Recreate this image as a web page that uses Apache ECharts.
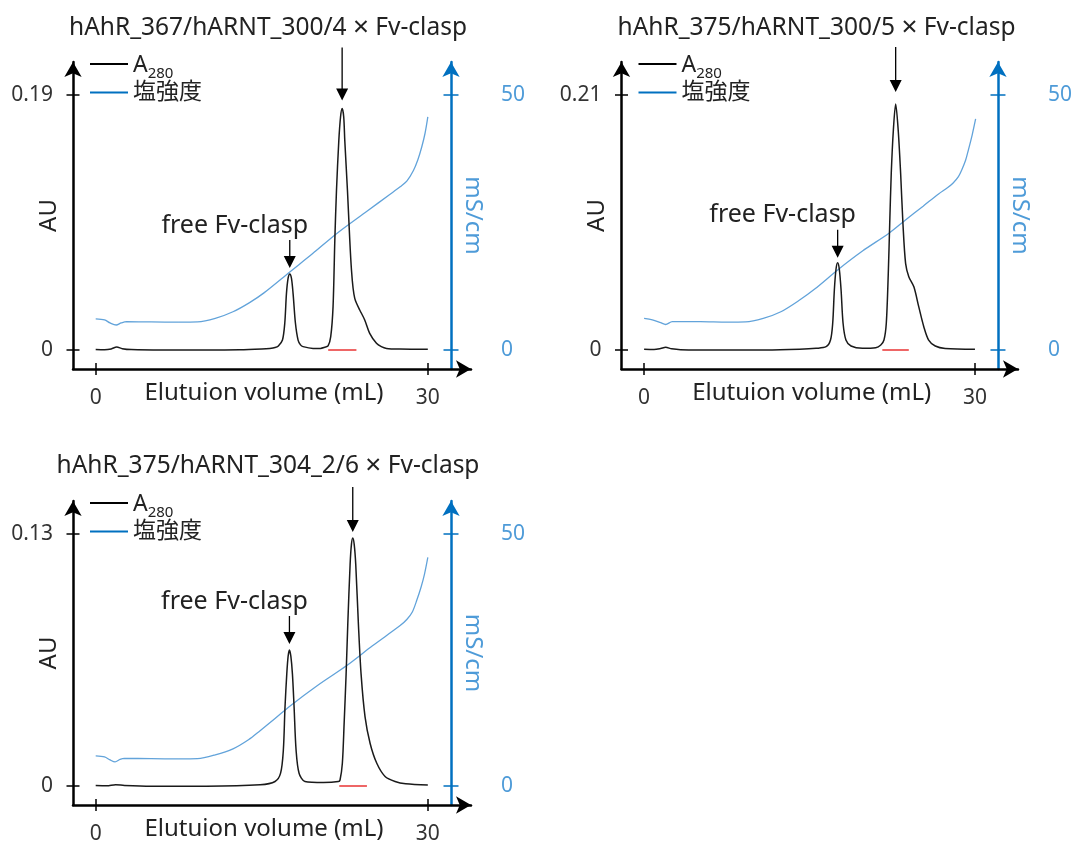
<!DOCTYPE html>
<html>
<head>
<meta charset="utf-8">
<script src="https://cdn.jsdelivr.net/npm/echarts@6/dist/echarts.min.js"></script>
<style>
  html, body { margin: 0; padding: 0; background: #ffffff; }
  #chart { width: 1075px; height: 845px; }
</style>
</head>
<body>
<div id="chart"></div>
<script>
// ---- chart text: construct name / ratio ----
const constructs = ['hAhR_367/hARNT_300/4', 'hAhR_375/hARNT_300/5', 'hAhR_375/hARNT_304_2/6'];
const binder = 'Fv-clasp';
const freeLabel = 'free Fv-clasp';

// ---- tick values ----
const auTopTicks = [0.19, 0.21, 0.13];   // top A280 tick of each panel
const condTicks = [0, 50];               // mS/cm
const volTicks = [0, 30];                // mL

// ---- collected fraction (mL, start/end) ----
const fractions = [[21.0, 23.55], [21.6, 24.0], [22.0, 24.5]];

// ---- A280 traces (elution volume in mL, absorbance in AU) ----
const vol1 = [0, 0.8, 1.4, 1.9, 2.4, 3.2, 6, 10, 13, 15, 15.72, 16.2, 16.5, 16.87, 17.08, 17.23, 17.38, 17.53, 17.68, 17.83, 18.04, 18.28, 18.5, 18.73, 19.63, 20.3, 20.69, 20.99, 21.23, 21.44, 21.6, 21.75, 21.96, 22.12, 22.26, 22.4, 22.5, 22.74, 22.95, 23.1, 23.25, 23.4, 23.56, 23.85, 24.3, 24.75, 25.36, 25.8, 26.27, 27.47, 30];
const a280_1 = [0.0004, 0.0002, 0.0008, 0.0022, 0.001, 0.0003, 0, 0, 0.0002, 0.0008, 0.0012, 0.0018, 0.003, 0.0074, 0.0201, 0.042, 0.0535, 0.0566, 0.0535, 0.042, 0.0201, 0.0074, 0.0038, 0.0025, 0.0012, 0.0012, 0.002, 0.003, 0.0099, 0.0323, 0.082, 0.119, 0.156, 0.174, 0.18, 0.174, 0.156, 0.119, 0.082, 0.06, 0.046, 0.0385, 0.0348, 0.0298, 0.0224, 0.0124, 0.005, 0.0025, 0.0012, 0.0007, 0.0005];

const vol2 = [0, 0.9, 1.5, 1.95, 2.5, 3.3, 7, 11, 14.1, 15.6, 16.5, 16.9, 17.1, 17.25, 17.4, 17.55, 17.7, 17.86, 18.04, 18.3, 18.76, 19.8, 21.0, 21.46, 21.75, 21.96, 22.14, 22.27, 22.41, 22.6, 22.81, 23.04, 23.26, 23.47, 23.71, 24.0, 24.46, 24.9, 25.36, 25.8, 26.4, 27.3, 30];
const a280_2 = [0.0006, 0.0004, 0.0012, 0.0022, 0.001, 0.0003, 0, 0, 0.0006, 0.0014, 0.0027, 0.0082, 0.022, 0.0494, 0.0665, 0.0719, 0.0665, 0.0494, 0.022, 0.0082, 0.0033, 0.0014, 0.0019, 0.0041, 0.0082, 0.022, 0.063, 0.104, 0.1455, 0.181, 0.2026, 0.181, 0.1455, 0.104, 0.0714, 0.0604, 0.052, 0.0357, 0.0192, 0.0082, 0.0033, 0.0012, 0.0006];

const vol3 = [0, 1.0, 1.8, 2.6, 5, 10, 14.85, 16.2, 16.7, 16.95, 17.1, 17.26, 17.38, 17.5, 17.63, 17.77, 17.92, 18.1, 18.37, 18.9, 20.57, 21.92, 22.07, 22.28, 22.44, 22.62, 22.77, 22.98, 23.1, 23.22, 23.35, 23.49, 23.73, 23.97, 24.33, 24.79, 25.39, 26.14, 27.04, 28, 30];
const a280_3 = [0.0003, 0.0002, 0.0008, 0.0004, 0, 0, 0.0007, 0.0024, 0.0067, 0.0186, 0.0408, 0.0578, 0.0668, 0.0701, 0.0668, 0.0578, 0.0408, 0.0186, 0.0067, 0.0024, 0.0019, 0.0024, 0.0032, 0.0118, 0.0322, 0.0578, 0.0834, 0.1141, 0.1245, 0.1278, 0.1245, 0.1141, 0.0834, 0.0578, 0.0357, 0.022, 0.0118, 0.005, 0.0024, 0.0012, 0.0006];

// ---- conductivity traces (elution volume in mL, mS/cm) ----
const condVol1 = [0, 0.8, 1.3, 1.85, 2.3, 2.8, 5, 7.5, 9.2, 10.8, 12.4, 13.9, 15.2, 17.53, 19.6, 21.75, 24.5, 26.5, 27.5, 28.1, 28.7, 29.1, 29.45, 29.75, 30];
const cond1 = [6.1, 5.9, 5.3, 4.9, 5.3, 5.55, 5.5, 5.45, 5.5, 6.2, 7.5, 9.3, 11.2, 15.3, 18.9, 22.8, 27.2, 30.4, 32.0, 33.1, 35.2, 37.3, 39.8, 42.5, 45.7];

const condVol2 = [0, 0.75, 1.5, 1.95, 2.55, 5.1, 7.5, 9.2, 10.8, 12.4, 14.1, 15.5, 17.55, 19.8, 22.2, 23.7, 25.3, 26.7, 27.5, 28.0, 28.5, 28.8, 29.15, 29.4, 29.75, 30.06];
const cond2 = [6.2, 5.9, 5.35, 5.0, 5.55, 5.55, 5.45, 5.5, 6.2, 7.5, 9.8, 12.0, 15.7, 19.4, 22.9, 25.5, 28.2, 30.6, 31.8, 32.7, 34.0, 35.3, 37.2, 39.2, 42.2, 45.3];

const condVol3 = [0, 0.8, 1.3, 1.75, 2.2, 2.6, 5, 7.5, 9.2, 10.8, 12.4, 13.8, 14.85, 16.2, 17.5, 20, 22.68, 25, 27.5, 28.1, 28.6, 29.0, 29.4, 29.7, 30];
const cond3 = [6.0, 5.8, 5.2, 4.8, 5.3, 5.5, 5.45, 5.4, 5.45, 6.2, 7.4, 9.2, 11.0, 13.4, 15.8, 19.9, 23.9, 27.8, 31.8, 33.0, 34.5, 36.8, 39.5, 42.0, 45.3];

const a280Vols = [vol1, vol2, vol3];
const a280Vals = [a280_1, a280_2, a280_3];
const condVols = [condVol1, condVol2, condVol3];
const condVals = [cond1, cond2, cond3];

// ---- layout and style ----
const FONT = '"Noto Sans", "Noto Sans CJK JP", sans-serif';
const BLACK = '#000000';
const INK = '#222222';
const AXIS_BLUE = '#0070C0';
const TEXT_BLUE = '#4E9BD8';
const TRACE_BLUE = '#62A3DA';
const FRACTION_RED = '#EE6666';
const panels = [
  { left: 73, top: 62, titleTop: 13, bigArrow: 53, bigGap: 8, freeArrow: 28, freeGap: 6 },
  { left: 621.5, top: 62, titleTop: 13, bigArrow: 45, bigGap: 12, freeArrow: 28, freeGap: 5 },
  { left: 73, top: 501, titleTop: 451, bigArrow: 45, bigGap: 6, freeArrow: 28, freeGap: 6 }
];
const GRID_W = 398, GRID_H = 307;
const X_MIN = -2.05, X_MAX = 33.9;
// zero sits 19px above the grid bottom; top tick sits 255px above zero
const ZERO_PX = 19, TICK_PX = 255;

function arrowPath(len) {
  const head = 12;
  return 'path://M5.35,0 L6.65,0 L6.65,' + (len - head) + ' L12,' + (len - head) +
         ' L6,' + len + ' L0,' + (len - head) + ' L5.35,' + (len - head) + ' Z';
}

function zip(xs, ys) { return xs.map((x, i) => [x, ys[i]]); }

function peakOf(xs, ys, lo, hi) {
  let best = -1;
  for (let i = 0; i < xs.length; i++) {
    if (xs[i] >= lo && xs[i] <= hi && (best < 0 || ys[i] > ys[best])) best = i;
  }
  return [xs[best], ys[best]];
}

const option = {
  backgroundColor: '#ffffff',
  animation: false,
  textStyle: { fontFamily: FONT },
  title: [], legend: [], grid: [], xAxis: [], yAxis: [], series: []
};

panels.forEach((p, i) => {
  const auTop = auTopTicks[i];
  const auMin = -auTop * ZERO_PX / TICK_PX;
  const auMax = auTop * (GRID_H - ZERO_PX) / TICK_PX;
  const cMax = condTicks[1];
  const cMin = -cMax * ZERO_PX / TICK_PX;
  const cMaxR = cMax * (GRID_H - ZERO_PX) / TICK_PX;

  option.title.push({
    text: '{t|' + constructs[i] + ' }{x|×}{t| ' + binder + '}',
    left: p.left + 195, top: p.titleTop, textAlign: 'center', padding: 0,
    textStyle: {
      fontFamily: FONT, fontSize: 24.5, fontWeight: 'normal', color: INK,
      rich: {
        t: { fontFamily: FONT, fontSize: 24.5, lineHeight: 30, color: INK },
        x: { fontFamily: FONT, fontSize: 28, lineHeight: 30, color: INK }
      }
    }
  });

  option.legend.push({
    orient: 'vertical', left: p.left + 17, top: p.top - 10, padding: 0,
    itemWidth: 38, itemHeight: 2, itemGap: 0, icon: 'rect', selectedMode: false,
    data: [
      { name: 'A280', itemStyle: { color: BLACK } },
      { name: '塩強度', itemStyle: { color: AXIS_BLUE } }
    ],
    formatter: n => n === 'A280' ? '{a|A}{s|280}' : '{c|' + n + '}',
    textStyle: {
      fontFamily: FONT, fontSize: 23, color: INK,
      rich: {
        a: { fontFamily: FONT, fontSize: 23, lineHeight: 24, padding: [2, 0, 0, 0], verticalAlign: 'top', color: INK },
        s: { fontFamily: FONT, fontSize: 15, lineHeight: 15, padding: [14, 0, 0, 0], verticalAlign: 'top', color: INK },
        c: { fontFamily: FONT, fontSize: 23, lineHeight: 24, color: INK }
      }
    }
  });

  option.grid.push({ left: p.left, top: p.top, width: GRID_W, height: GRID_H, containLabel: false });

  const xBase = {
    type: 'value', gridIndex: i, min: X_MIN, max: X_MAX, position: 'bottom',
    splitLine: { show: false }
  };
  // main x axis with arrow, outer ticks, labels and name
  option.xAxis.push(Object.assign({}, xBase, {
    axisLine: { show: true, onZero: false, lineStyle: { color: BLACK, width: 2.5 }, symbol: ['none', 'arrow'], symbolSize: [13, 15] },
    axisTick: { show: true, inside: false, length: 6, lineStyle: { color: BLACK, width: 1.5 }, customValues: volTicks },
    axisLabel: { show: true, customValues: volTicks, margin: 19, fontSize: 21, color: '#333333', fontFamily: FONT },
    name: 'Elutuion volume (mL)', nameLocation: 'middle', nameGap: 12, nameMoveOverlap: false,
    nameTextStyle: { fontFamily: FONT, fontSize: 24, color: INK, padding: [0, 16, 0, 0] }
  }));
  // inner half of the crossing ticks
  option.xAxis.push(Object.assign({}, xBase, {
    axisLine: { show: false, onZero: false },
    axisTick: { show: true, inside: true, length: 6, lineStyle: { color: BLACK, width: 1.5 }, customValues: volTicks },
    axisLabel: { show: false }
  }));

  const auTicks = [0, auTop];
  const yL = { type: 'value', gridIndex: i, min: auMin, max: auMax, position: 'left', splitLine: { show: false } };
  option.yAxis.push(Object.assign({}, yL, {
    axisLine: { show: true, onZero: false, lineStyle: { color: BLACK, width: 2.5 }, symbol: ['none', 'arrow'], symbolSize: [13, 15] },
    axisTick: { show: true, inside: false, length: 6.5, lineStyle: { color: BLACK, width: 1.5 }, customValues: auTicks },
    axisLabel: { show: true, customValues: auTicks, margin: 20, fontSize: 21, color: '#333333', fontFamily: FONT, formatter: v => String(v) },
    name: 'AU', nameLocation: 'middle', nameRotate: 90, nameGap: 12, nameMoveOverlap: false,
    nameTextStyle: { fontFamily: FONT, fontSize: 24, color: INK }
  }));
  option.yAxis.push(Object.assign({}, yL, {
    axisLine: { show: false, onZero: false },
    axisTick: { show: true, inside: true, length: 6.5, lineStyle: { color: BLACK, width: 1.5 }, customValues: auTicks },
    axisLabel: { show: false }
  }));

  const yR = { type: 'value', gridIndex: i, min: cMin, max: cMaxR, position: 'right', offset: -20, splitLine: { show: false } };
  option.yAxis.push(Object.assign({}, yR, {
    axisLine: { show: true, onZero: false, lineStyle: { color: AXIS_BLUE, width: 2.5 }, symbol: ['none', 'arrow'], symbolSize: [13, 15] },
    axisTick: { show: true, inside: false, length: 7.5, lineStyle: { color: AXIS_BLUE, width: 1.5 }, customValues: condTicks },
    axisLabel: { show: true, customValues: condTicks, margin: 50, fontSize: 21, color: TEXT_BLUE, fontFamily: FONT },
    name: 'mS/cm', nameLocation: 'middle', nameRotate: -90, nameGap: 10, nameMoveOverlap: false,
    nameTextStyle: { fontFamily: FONT, fontSize: 24, color: TEXT_BLUE }
  }));
  option.yAxis.push(Object.assign({}, yR, {
    axisLine: { show: false, onZero: false },
    axisTick: { show: true, inside: true, length: 7.5, lineStyle: { color: AXIS_BLUE, width: 1.5 }, customValues: condTicks },
    axisLabel: { show: false }
  }));

  const xs = a280Vols[i], ys = a280Vals[i];
  const mainPeak = peakOf(xs, ys, 20, 30);
  const freePeak = peakOf(xs, ys, 10, 20);

  option.series.push({
    name: 'A280', type: 'line', xAxisIndex: 2 * i, yAxisIndex: 4 * i,
    data: zip(xs, ys), showSymbol: false, smooth: 0.3, z: 3,
    lineStyle: { color: '#1a1a1a', width: 1.5 }, itemStyle: { color: BLACK },
    markPoint: {
      silent: true,
      itemStyle: { color: BLACK },
      label: { show: false },
      data: [
        { coord: mainPeak, symbol: arrowPath(p.bigArrow), symbolSize: [12, p.bigArrow],
          symbolOffset: [0, -(p.bigGap + p.bigArrow / 2)] },
        { coord: freePeak, symbol: arrowPath(p.freeArrow), symbolSize: [12, p.freeArrow],
          symbolOffset: [0, -(p.freeGap + p.freeArrow / 2)],
          label: { show: true, formatter: freeLabel, position: 'top', distance: 2, offset: [-55, 0],
                   fontFamily: FONT, fontSize: 25, color: INK } }
      ]
    },
    markLine: {
      silent: true, symbol: ['none', 'none'], label: { show: false },
      lineStyle: { color: FRACTION_RED, width: 2, type: 'solid' },
      data: [[{ coord: [fractions[i][0], 0] }, { coord: [fractions[i][1], 0] }]]
    }
  });
  option.series.push({
    name: '塩強度', type: 'line', xAxisIndex: 2 * i, yAxisIndex: 4 * i + 2,
    data: zip(condVols[i], condVals[i]), showSymbol: false, smooth: 0.3, z: 2,
    lineStyle: { color: TRACE_BLUE, width: 1.3 }, itemStyle: { color: TRACE_BLUE }
  });
});

const chart = echarts.init(document.getElementById('chart'), null, { renderer: 'canvas' });
chart.setOption(option);
</script>
</body>
</html>
